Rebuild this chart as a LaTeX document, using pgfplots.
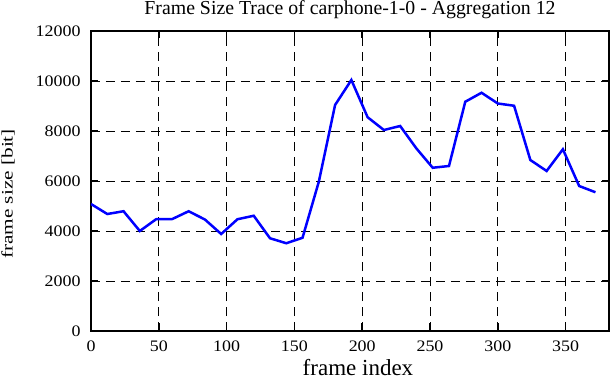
\documentclass[border=0pt]{standalone}
\usepackage{fontspec}
\setmainfont{Liberation Serif}
\newfontfamily\tickfont[FakeStretch=1.12]{Liberation Serif}
\newfontfamily\ylabfont[FakeStretch=1.33]{Liberation Serif}
\usepackage{pgfplots}
\pgfplotsset{compat=1.18}
\begin{document}
\begin{tikzpicture}
\begin{axis}[
  scale only axis,
  width=518bp, height=300bp,
  xmin=0, xmax=382, ymin=0, ymax=12000,
  xtick={0,50,...,350},
  ytick={0,2000,...,12000},
  grid=major,
  grid style={black, line width=0.8bp, dash pattern=on 9bp off 6bp},
  axis line style={black, line width=2bp},
  tick style={black, line width=1.6bp},
  tick align=inside,
  major tick length=7.5bp,
  scaled y ticks=false,
  /pgf/number format/assume math mode=true,
  /pgf/number format/1000 sep={},
  tick label style={font=\tickfont\fontsize{16bp}{18bp}\selectfont},
  yticklabel style={xshift=-7bp},
  xticklabel style={yshift=-6bp},
  xlabel={frame index},
  ylabel={frame size [bit]},
  xlabel style={font=\fontsize{23bp}{25bp}\selectfont, at={(axis description cs:0.5154,-0.1467)}, anchor=base},
  ylabel style={font=\ylabfont\fontsize{16bp}{18bp}\selectfont, at={(axis description cs:-0.1515,0.4567)}, anchor=base},
]
\addplot[blue, line width=2.5bp] coordinates {
(0,5080) (12,4680) (24,4790) (36,4000) (48,4470) (60,4480) (72,4790) (84,4460)
(96,3880) (108,4470) (120,4610) (132,3710) (144,3510) (156,3730) (168,5970) (180,9040)
(192,10040) (204,8550) (216,8040) (228,8200) (240,7300) (252,6530) (264,6600) (276,9170)
(288,9530) (300,9100) (312,9010) (324,6840) (336,6400) (348,7270) (360,5800) (372,5550)
};
\end{axis}
\node[anchor=base, inner sep=0pt, font=\fontsize{19.8bp}{22bp}\selectfont] at ([yshift=16bp]current axis.north) {Frame Size Trace of carphone-1-0 - Aggregation 12};
\pgfresetboundingbox
\path (current axis.south west) ++(-91bp,-51bp) coordinate (a);
\path (current axis.north east) ++(3bp,31bp) coordinate (b);
\useasboundingbox (a) rectangle (b);
\end{tikzpicture}
\end{document}
